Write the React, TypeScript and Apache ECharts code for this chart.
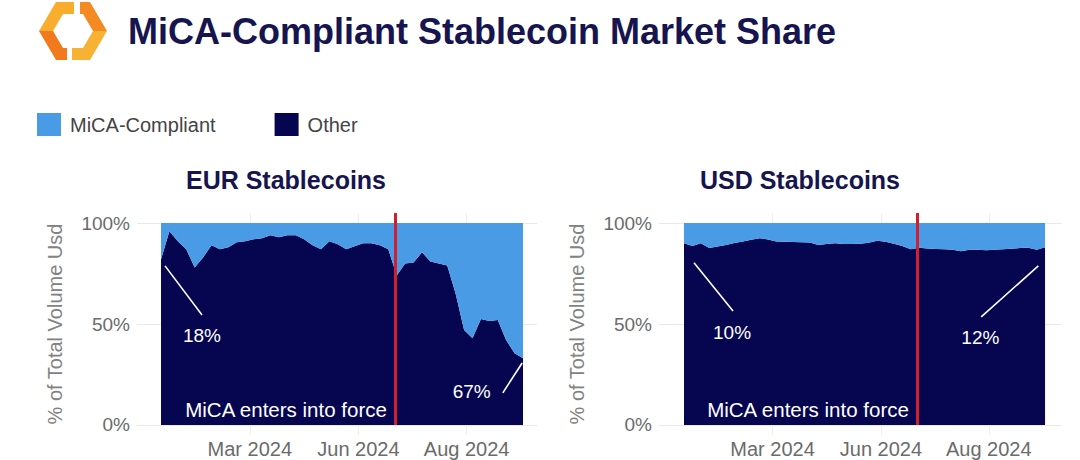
import React, { useEffect, useRef } from "react";
import * as echarts from "echarts";

// ---------- data ----------
// x positions are week indices (0 … 43)
const tickPositions = [10.55, 23.45, 36.3];
const tickLabels = ["Mar 2024", "Jun 2024", "Aug 2024"];
const yTicks = [0, 50, 100];
const micaDate = 27.8; // MiCA enters into force (index position)

const eurOther = [82, 96, 91, 87, 78, 83, 89, 87, 88, 90.5, 91, 92, 92.5, 94, 93, 94, 94, 92, 89, 87, 91, 89.5, 87, 88.5, 90, 90, 89, 87, 74, 80, 80.5, 85.5, 81, 80, 79, 65, 47, 43, 52.5, 51.5, 52, 42, 35.5, 33];
const eurMica = [18, 4, 9, 13, 22, 17, 11, 13, 12, 9.5, 9, 8, 7.5, 6, 7, 6, 6, 8, 11, 13, 9, 10.5, 13, 11.5, 10, 10, 11, 13, 26, 20, 19.5, 14.5, 19, 20, 21, 35, 53, 57, 47.5, 48.5, 48, 58, 64.5, 67];

const usdOther = [90, 88.6, 90, 87.7, 88.4, 89.2, 90.1, 90.9, 91.7, 92.5, 91.9, 90.9, 90.7, 90.6, 90.5, 90.4, 89.1, 89.6, 90, 89.7, 89.6, 89.8, 90.3, 91.2, 90.8, 89.8, 88.6, 87.1, 87.8, 87.4, 87.2, 87.1, 86.8, 86.1, 86.8, 86.8, 86.6, 86.8, 87.1, 87.3, 87.6, 87.8, 86.8, 88];
const usdMica = [10, 11.4, 10, 12.3, 11.6, 10.8, 9.9, 9.1, 8.3, 7.5, 8.1, 9.1, 9.3, 9.4, 9.5, 9.6, 10.9, 10.4, 10, 10.3, 10.4, 10.2, 9.7, 8.8, 9.2, 10.2, 11.4, 12.9, 12.2, 12.6, 12.8, 12.9, 13.2, 13.9, 13.2, 13.2, 13.4, 13.2, 12.9, 12.7, 12.4, 12.2, 13.2, 12];

const eurNotes = [
  { text: "18%", at: [4.87, 44.3], size: 19 },
  { text: "67%", at: [36.9, 16.4], size: 19 },
  { text: "MiCA enters into force", at: [14.85, 7.4], size: 20.5 },
];
const eurLeaders = [
  [[0.48, 78.8], [4.87, 54.5]],
  [[40.6, 15.9], [42.9, 30.7]],
];
const usdNotes = [
  { text: "10%", at: [5.72, 45.6], size: 19 },
  { text: "12%", at: [35.3, 43.1], size: 19 },
  { text: "MiCA enters into force", at: [14.77, 7.4], size: 20.5 },
];
const usdLeaders = [
  [[1.19, 80.3], [5.84, 56.5]],
  [[35.4, 53.5], [42.2, 78.8]],
];

// ---------- styles ----------
const FONT = '"Liberation Sans", Arial, Helvetica, sans-serif';
const NAVY = "#16154f";
const DARK = "#050550";
const LIGHT = "#4a9be6";
const RED = "#d21f2e";
const GRAY = "#6b6b6b";

const panels = [
  { grid: { left: 137, top: 213, width: 400, height: 222 }, xr: [-2.851, 44.66], other: eurOther, mica: eurMica, notes: eurNotes, leaders: eurLeaders },
  { grid: { left: 659, top: 213, width: 403, height: 222 }, xr: [-2.978, 45.02], other: usdOther, mica: usdMica, notes: usdNotes, leaders: usdLeaders },
];

function labelFor(v: number) {
  for (let j = 0; j < tickPositions.length; j++) {
    if (Math.abs(tickPositions[j] - v) < 1e-6) return tickLabels[j];
  }
  return "";
}

function buildOption() {
  const grid = panels.map((p) => p.grid);
  const xAxis = panels.map((p, k) => ({
    type: "value",
    gridIndex: k,
    min: p.xr[0],
    max: p.xr[1],
    axisLine: { show: false },
    axisTick: { show: false, customValues: tickPositions },
    axisLabel: {
      customValues: tickPositions,
      formatter: (v: number) => labelFor(v),
      fontSize: 20,
      color: GRAY,
      margin: 4,
      fontFamily: FONT,
    },
    splitLine: { show: true, lineStyle: { color: "#eeeeee", width: 1 } },
  }));
  const yAxis = panels.map((p, k) => ({
    type: "value",
    gridIndex: k,
    min: -5,
    max: 105,
    axisLine: { show: false },
    axisTick: { show: false, customValues: yTicks },
    axisLabel: {
      customValues: yTicks,
      formatter: "{value}%",
      fontSize: 19,
      color: GRAY,
      margin: 7,
      fontFamily: FONT,
    },
    splitLine: { show: true, lineStyle: { color: "#e9e9e9", width: 1 } },
    name: "% of Total Volume Usd",
    nameLocation: "middle",
    nameGap: 72,
    nameRotate: 90,
    nameTextStyle: { fontSize: 20, color: "#828282", fontFamily: FONT },
  }));
  const series: any[] = [];
  panels.forEach((p, k) => {
    series.push({
      name: "Other",
      type: "line",
      xAxisIndex: k,
      yAxisIndex: k,
      stack: "s" + k,
      // value first so that the stack is applied to the share (y), not to x
      encode: { x: 1, y: 0 },
      data: p.other.map((v, i) => [v, i]),
      symbol: "none",
      showSymbol: false,
      color: DARK,
      itemStyle: { color: DARK },
      lineStyle: { width: 0, opacity: 0 },
      areaStyle: { color: DARK, opacity: 1 },
      silent: true,
      markLine: {
        silent: true,
        symbol: ["none", "none"],
        label: { show: false },
        z: 10,
        lineStyle: { type: "solid" },
        data: [
          [
            { coord: [micaDate, 0], lineStyle: { color: RED, width: 3, type: "solid" } },
            { coord: [micaDate, 105] },
          ],
          ...p.leaders.map(([a, b]) => [
            { coord: a, lineStyle: { color: "#ffffff", width: 1.6, type: "solid" } },
            { coord: b },
          ]),
        ],
      },
      markPoint: {
        silent: true,
        symbol: "circle",
        symbolSize: 1,
        z: 10,
        itemStyle: { color: "rgba(0,0,0,0)" },
        label: {
          show: true,
          position: "inside",
          color: "#ffffff",
          fontSize: 19,
          fontFamily: FONT,
          formatter: "{b}",
        },
        data: p.notes.map((n) => ({
          name: n.text,
          coord: n.at,
          label: { fontSize: n.size },
        })),
      },
    });
    series.push({
      name: "MiCA-Compliant",
      type: "line",
      xAxisIndex: k,
      yAxisIndex: k,
      stack: "s" + k,
      encode: { x: 1, y: 0 },
      data: p.mica.map((v, i) => [v, i]),
      symbol: "none",
      showSymbol: false,
      color: LIGHT,
      itemStyle: { color: LIGHT },
      lineStyle: { width: 0, opacity: 0 },
      areaStyle: { color: LIGHT, opacity: 1 },
      silent: true,
    });
  });

  const graphic = [
    // logo
    { type: "polygon", shape: { points: [[74, 2], [56, 2], [39, 31], [53, 31], [63, 14], [74, 14]] }, style: { fill: "#f8ad2c" } },
    { type: "polygon", shape: { points: [[39, 31], [56, 60], [67, 60], [67, 48], [63, 48], [53, 31]] }, style: { fill: "#f27a1c" } },
    { type: "polygon", shape: { points: [[80, 2], [90, 2], [107, 31], [93, 31], [83, 14], [80, 14]] }, style: { fill: "#f38a22" } },
    { type: "polygon", shape: { points: [[107, 31], [90, 60], [72, 60], [72, 48], [83, 48], [93, 31]] }, style: { fill: "#f8b233" } },
    {
      type: "text",
      x: 128,
      y: 31,
      style: { text: "MiCA-Compliant Stablecoin Market Share", fontSize: 36, fontWeight: "bold", fontFamily: FONT, fill: NAVY, align: "left", verticalAlign: "middle" },
    },
    {
      type: "text",
      x: 286,
      y: 180,
      style: { text: "EUR Stablecoins", fontSize: 25, fontWeight: "bold", fontFamily: FONT, fill: NAVY, align: "center", verticalAlign: "middle" },
    },
    {
      type: "text",
      x: 800,
      y: 180,
      style: { text: "USD Stablecoins", fontSize: 25, fontWeight: "bold", fontFamily: FONT, fill: NAVY, align: "center", verticalAlign: "middle" },
    },
  ];

  return {
    animation: false,
    backgroundColor: "#ffffff",
    textStyle: { fontFamily: FONT },
    legend: {
      left: 37,
      top: 113,
      padding: 0,
      itemWidth: 24,
      itemHeight: 23,
      itemGap: 59,
      icon: "rect",
      selectedMode: false,
      data: ["MiCA-Compliant", "Other"],
      textStyle: { fontSize: 20, color: "#444444", fontFamily: FONT, padding: [0, 0, 0, 4] },
    },
    grid,
    xAxis,
    yAxis,
    series,
    graphic,
  };
}

export default function App() {
  const ref = useRef<HTMLDivElement | null>(null);
  useEffect(() => {
    if (!ref.current) return;
    const chart = echarts.init(ref.current, undefined, { renderer: "svg" });
    chart.setOption(buildOption() as any);
    return () => chart.dispose();
  }, []);
  return (
    <div
      ref={ref}
      style={{ position: "fixed", left: 0, top: 0, width: 1080, height: 460, background: "#fff" }}
    />
  );
}
